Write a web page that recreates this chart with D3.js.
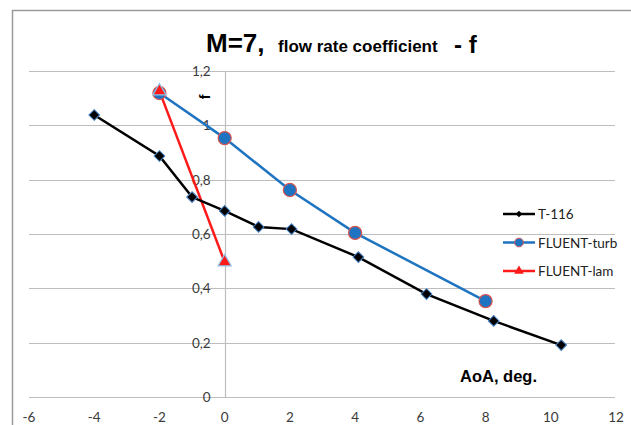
<!DOCTYPE html>
<html>
<head>
<meta charset="utf-8">
<script src="https://cdn.jsdelivr.net/npm/d3@7"></script>
<style>
  body { margin: 0; background: #fff; }
  svg text { font-family: Lato, "Liberation Sans", sans-serif; }
  svg text.arial { font-family: "Liberation Sans", Arial, sans-serif; font-weight: bold; }
</style>
</head>
<body>
<div id="chart"></div>
<script>
// series (AoA, f)
var t116X = [-4, -2, -1, 0, 1.04, 2.05, 4.1, 6.19, 8.25, 10.32];
var t116Y = [1.038, 0.887, 0.736, 0.685, 0.626, 0.618, 0.515, 0.379, 0.28, 0.191];
var turbX = [-2, 0, 2, 4, 8];
var turbY = [1.119, 0.953, 0.762, 0.604, 0.353];
var lamX = [-2, 0];
var lamY = [1.126, 0.497];
var xTicks = [-6, -4, -2, 0, 2, 4, 6, 8, 10, 12];
var yTicks = [0, 0.2, 0.4, 0.6, 0.8, 1, 1.2];
var seriesNames = ["T-116", "FLUENT-turb", "FLUENT-lam"];

var width = 631, height = 425;
var svg = d3.select('#chart').append('svg')
    .attr('width', width)
    .attr('height', height);

// outer chart frame
svg.append('rect')
    .attr('x', 12.5).attr('y', 10.5)
    .attr('width', 640).attr('height', 440)
    .attr('fill', 'none')
    .attr('stroke', '#9a9a9a')
    .attr('stroke-width', 1.5);

var x = d3.scaleLinear().domain([-6, 12]).range([29, 616]);
var y = d3.scaleLinear().domain([0, 1.2]).range([397, 71]);
var fmt = function (d) { return String(d).replace('.', ','); };

// horizontal gridlines
svg.append('g').selectAll('line')
    .data(yTicks)
    .enter().append('line')
    .attr('x1', x(-6)).attr('x2', x(12) - 1)
    .attr('y1', function (d) { return Math.round(y(d)) + 0.5; })
    .attr('y2', function (d) { return Math.round(y(d)) + 0.5; })
    .attr('stroke', '#bdbdbd')
    .attr('stroke-width', 1.2);

// vertical axis at x = 0
svg.append('line')
    .attr('x1', Math.round(x(0)) + 0.5).attr('x2', Math.round(x(0)) + 0.5)
    .attr('y1', y(1.2)).attr('y2', y(0))
    .attr('stroke', '#bdbdbd')
    .attr('stroke-width', 1.2);

// y tick labels
svg.append('g').selectAll('text')
    .data(yTicks)
    .enter().append('text')
    .attr('x', x(0) - 14)
    .attr('y', function (d) { return y(d) + 5; })
    .attr('text-anchor', 'end')
    .style('font-size', '13.5px')
    .attr('fill', '#3a3a3a')
    .text(fmt);

// x tick labels
svg.append('g').selectAll('text')
    .data(xTicks)
    .enter().append('text')
    .attr('x', function (d) { return x(d); })
    .attr('y', 422)
    .attr('text-anchor', 'middle')
    .style('font-size', '13.5px')
    .attr('fill', '#3a3a3a')
    .text(function (d) { return d; });

// title, three pieces of different size
svg.append('text').attr('class', 'arial').attr('x', 206).attr('y', 52)
    .style('font-size', '26px').text('M=7,');
svg.append('text').attr('class', 'arial').attr('x', 278).attr('y', 52)
    .style('font-size', '17px').text('flow rate coefficient');
svg.append('text').attr('class', 'arial').attr('x', 454).attr('y', 53)
    .style('font-size', '24px').text('- f');

// y axis label
svg.append('text')
    .attr('class', 'arial')
    .attr('transform', 'translate(210,97) rotate(-90)')
    .attr('text-anchor', 'middle')
    .style('font-size', '14px')
    .text('f');

// x axis label
svg.append('text')
    .attr('class', 'arial')
    .attr('x', 460).attr('y', 382)
    .style('font-size', '16.5px')
    .text('AoA, deg.');

var line = d3.line()
    .x(function (d) { return x(d[0]); })
    .y(function (d) { return y(d[1]); });

var t116 = d3.zip(t116X, t116Y);
var turb = d3.zip(turbX, turbY);
var lam = d3.zip(lamX, lamY);

// FLUENT-turb
svg.append('path').datum(turb)
    .attr('d', line).attr('fill', 'none')
    .attr('stroke', '#1f74c2').attr('stroke-width', 2.5);
// FLUENT-lam
svg.append('path').datum(lam)
    .attr('d', line).attr('fill', 'none')
    .attr('stroke', '#ff1a1a').attr('stroke-width', 2.5);
// T-116
svg.append('path').datum(t116)
    .attr('d', line).attr('fill', 'none')
    .attr('stroke', '#000').attr('stroke-width', 2.5);

// diamond = square turned 45 degrees
var diamond = d3.symbol().type(d3.symbolSquare).size(58);
var circle = d3.symbol().type(d3.symbolCircle).size(135);
var tri = d3.symbol().type(d3.symbolTriangle).size(75);

svg.append('g').selectAll('path')
    .data(turb).enter().append('path')
    .attr('transform', function (d) { return 'translate(' + x(d[0]) + ',' + y(d[1]) + ')'; })
    .attr('d', circle)
    .attr('fill', '#1f74c2').attr('stroke', '#d9534f').attr('stroke-width', 1.2);

svg.append('g').selectAll('path')
    .data(lam).enter().append('path')
    .attr('transform', function (d) { return 'translate(' + x(d[0]) + ',' + y(d[1]) + ')'; })
    .attr('d', tri)
    .attr('fill', '#ff1a1a').attr('stroke', '#8fc3e8').attr('stroke-width', 1.2);

svg.append('g').selectAll('path')
    .data(t116).enter().append('path')
    .attr('transform', function (d) { return 'translate(' + x(d[0]) + ',' + y(d[1]) + ') rotate(45)'; })
    .attr('d', diamond)
    .attr('fill', '#000').attr('stroke', '#4a86c8').attr('stroke-width', 1);

// legend
var legendColors = ['#000', '#1f74c2', '#ff1a1a'];
var legendShapes = [
    { d: d3.symbol().type(d3.symbolSquare).size(22), rot: 45, fill: '#000', stroke: 'none' },
    { d: d3.symbol().type(d3.symbolCircle).size(60), rot: 0, fill: '#1f74c2', stroke: '#d9534f' },
    { d: d3.symbol().type(d3.symbolTriangle).size(40), rot: 0, fill: '#ff1a1a', stroke: 'none' }
];
var legend = svg.selectAll('.legend')
    .data(seriesNames)
    .enter().append('g')
    .attr('class', 'legend')
    .attr('transform', function (d, i) { return 'translate(503,' + (214 + i * 28.5) + ')'; });

legend.append('line')
    .attr('x1', 0).attr('x2', 32)
    .attr('stroke', function (d, i) { return legendColors[i]; })
    .attr('stroke-width', 2.5);
legend.append('path')
    .attr('transform', function (d, i) { return 'translate(16,0) rotate(' + legendShapes[i].rot + ')'; })
    .attr('d', function (d, i) { return legendShapes[i].d(); })
    .attr('fill', function (d, i) { return legendShapes[i].fill; })
    .attr('stroke', function (d, i) { return legendShapes[i].stroke; });
legend.append('text')
    .attr('x', 35).attr('y', 5)
    .style('font-size', '13.5px')
    .attr('fill', '#222')
    .text(function (d) { return d; });
</script>
</body>
</html>
